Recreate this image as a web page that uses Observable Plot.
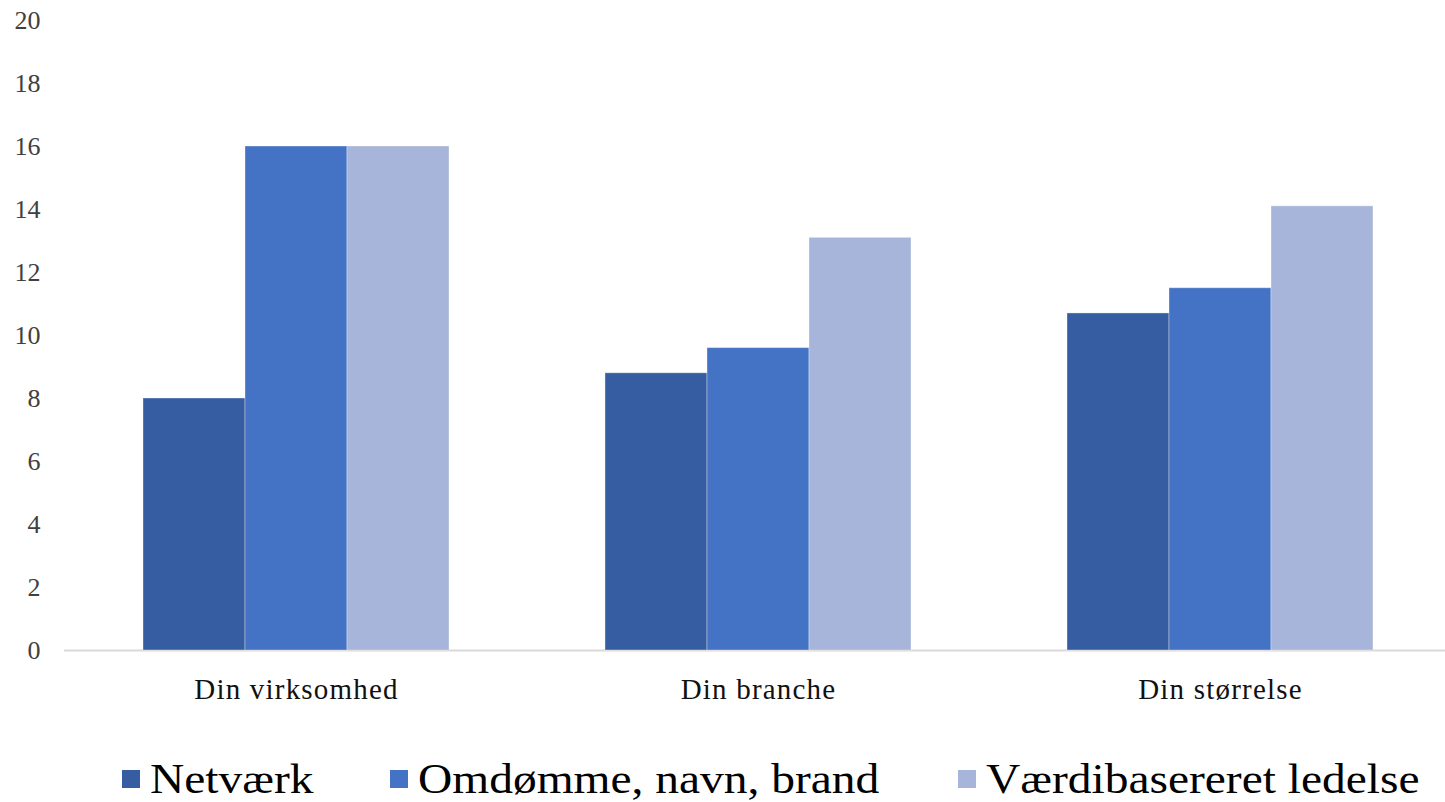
<!DOCTYPE html>
<html><head><meta charset="utf-8">
<script src="https://cdn.jsdelivr.net/npm/d3@7"></script>
<script src="https://cdn.jsdelivr.net/npm/@observablehq/plot@0.6"></script>
<style>
html,body{margin:0;padding:0;background:#fff;}
#wrap{position:relative;width:1445px;height:802px;overflow:hidden;background:#fff;}
#axes,#bars{position:absolute;left:0;top:0;}
#bars text{letter-spacing:1.2px;}
.legend{position:absolute;top:756px;left:0;width:1445px;height:46px;font-family:"Liberation Serif",serif;font-size:42px;color:#000;}
.item{position:absolute;top:0;display:flex;align-items:center;height:46px;white-space:nowrap;}
.sw{width:18px;height:18px;margin-right:10px;flex:none;}
.lt{display:inline-block;transform:scaleX(1.13);transform-origin:left center;}
</style></head><body><div id="wrap"><div id="axes"></div><div id="bars"></div><div class="legend" id="legend"></div></div>
<script>
const categories = ["Din virksomhed", "Din branche", "Din størrelse"];
const series = ["Netværk", "Omdømme, navn, brand", "Værdibasereret ledelse"];
const netvaerk = [8.0, 8.8, 10.7];
const omdomme = [16.0, 9.6, 11.5];
const vaerdi = [16.0, 13.1, 14.1];
const colors = ["#365DA1", "#4472C4", "#A7B5DA"];
const yTicks = [0, 2, 4, 6, 8, 10, 12, 14, 16, 18, 20];
const legendLeft = [122, 390, 958];

const values = [netvaerk, omdomme, vaerdi];
const rows = categories.flatMap((c, i) => series.map((s, j) => ({category: c, series: s, value: values[j][i]})));

const dims = {width: 1445, height: 720, marginTop: 20, marginBottom: 70, marginLeft: 64, marginRight: 0};
const style = {fontFamily: "Liberation Serif", fontSize: "26px", color: "#404040", background: "transparent"};

// y axis and baseline (unfaceted)
const axesPlot = Plot.plot({
  ...dims, style,
  x: {axis: null},
  y: {domain: [0, 20], axis: null},
  marks: [
    Plot.ruleY([0], {stroke: "#d9d9d9", strokeWidth: 2}),
    Plot.axisY({ticks: yTicks, tickSize: 0, tickPadding: 24, label: null, fontSize: 26})
  ]
});
document.getElementById("axes").appendChild(axesPlot);

// grouped bars (faceted by category)
const barsPlot = Plot.plot({
  ...dims, style,
  fx: {domain: categories, paddingInner: 0.333, paddingOuter: 0.161, align: 0.523, label: null, axis: null},
  x: {domain: series, padding: 0, axis: null},
  y: {domain: [0, 20], axis: null},
  color: {domain: series, range: colors},
  marks: [
    Plot.barY(rows, {fx: "category", x: "series", y: "value", fill: "series", stroke: "#ffffff", strokeOpacity: 0.35, strokeWidth: 1}),
    Plot.axisFx({anchor: "bottom", tickSize: 0, tickPadding: 28, label: null, fontSize: 29, fill: "#111"})
  ]
});
document.getElementById("bars").appendChild(barsPlot);

const legend = document.getElementById("legend");
series.forEach((s, i) => {
  const it = document.createElement("div");
  it.className = "item";
  it.style.left = legendLeft[i] + "px";
  const sw = document.createElement("span");
  sw.className = "sw";
  sw.style.background = colors[i];
  const t = document.createElement("span");
  t.className = "lt";
  t.textContent = s;
  it.appendChild(sw); it.appendChild(t);
  legend.appendChild(it);
});
</script></body></html>
